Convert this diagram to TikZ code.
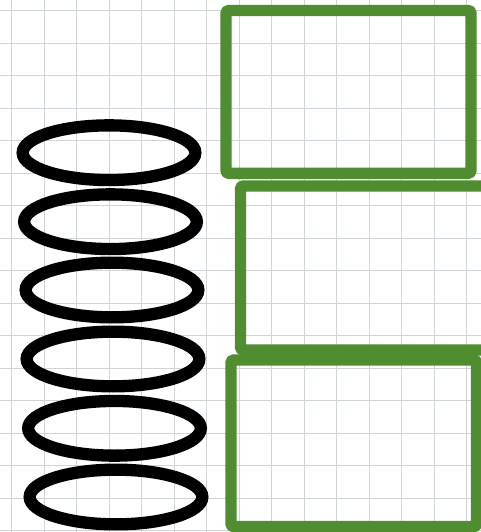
\documentclass[tikz,border=0pt]{standalone}
\usetikzlibrary{shapes.geometric}
\definecolor{leafgreen}{RGB}{80,140,48}
\definecolor{gridgray}{RGB}{206,212,215}

\begin{document}
\begin{tikzpicture}[
    x=0.02cm, y=-0.02cm,
    gridline/.style={draw=gridgray, line width=0.5pt},
    ring/.style={ellipse, draw=black, line width=7pt, minimum width=3.454cm, minimum height=1.094cm, inner sep=0pt},
    panel/.style={rectangle, draw=leafgreen, line width=6.5pt, line join=round, rounded corners=1pt, inner sep=0pt}
]
\clip (0,0) rectangle (481,532);
\fill[white] (0,0) rectangle (481,532);

% Background grid
\foreach \gx in {0,...,14} \draw[gridline] (11.7+32.5*\gx,0) -- (11.7+32.5*\gx,532);
\foreach \gy in {0,...,16} \draw[gridline] (0,10.5+32.5*\gy) -- (481,10.5+32.5*\gy);

% Stack of rings (left column)
\node[ring] (ring1) at (109,152.7) {};
\node[ring] (ring2) at (110.5,221.7) {};
\node[ring] (ring3) at (112,290) {};
\node[ring] (ring4) at (113,359) {};
\node[ring] (ring5) at (114.5,428.3) {};
\node[ring] (ring6) at (116,497) {};

% Green panels (right column)
\node[panel, minimum width=4.9cm, minimum height=3.256cm] (panel1) at (348.5,91.9) {};
\node[panel, minimum width=5.03cm, minimum height=3.28cm] (panel2) at (366.25,268) {};
\node[panel, minimum width=4.91cm, minimum height=3.334cm] (panel3) at (353.75,443.35) {};

\end{tikzpicture}
\end{document}
